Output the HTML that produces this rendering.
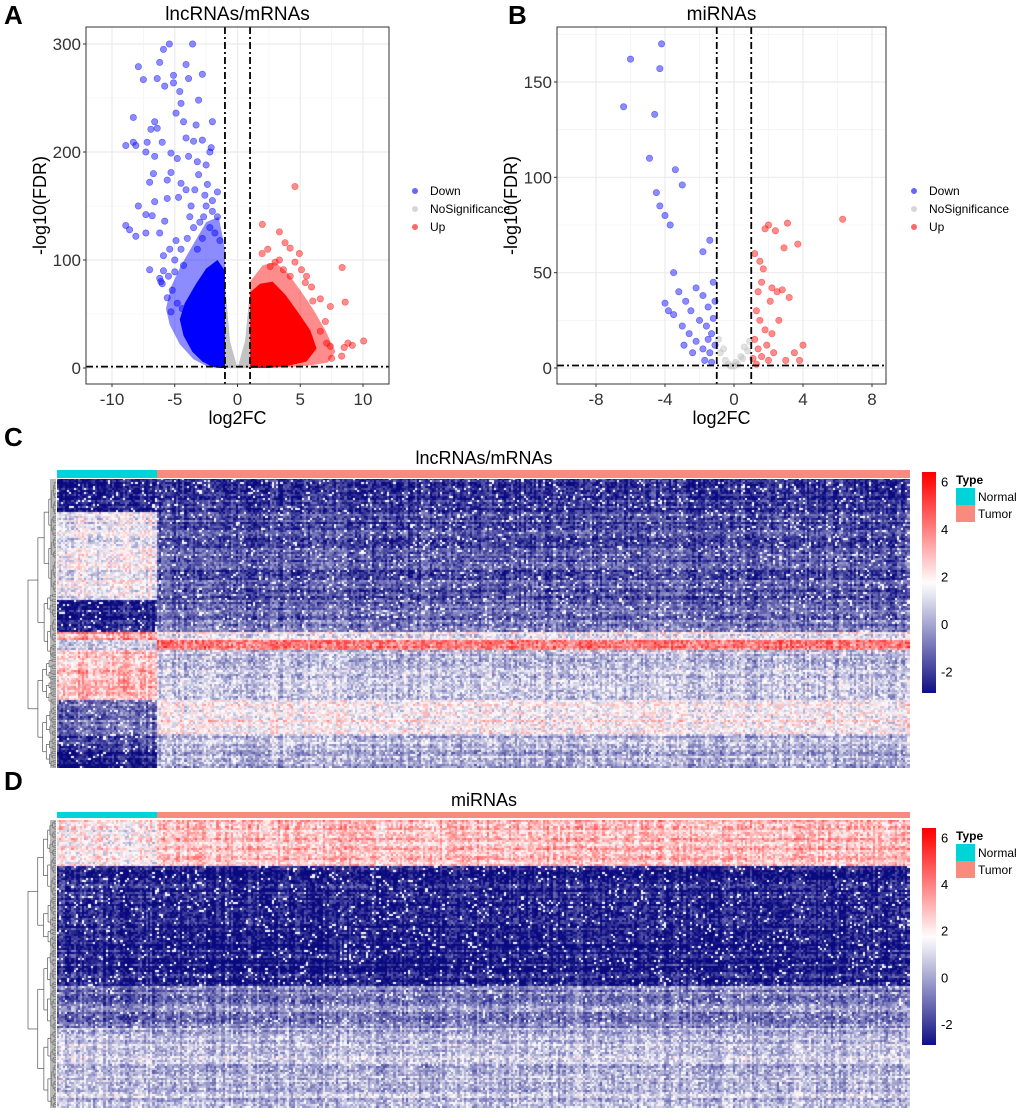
<!DOCTYPE html>
<html><head><meta charset="utf-8">
<style>
body{margin:0;background:#fff;font-family:"Liberation Sans",Arial,sans-serif;}
#root{position:relative;width:1020px;height:1112px;overflow:hidden;}
svg text{font-family:"Liberation Sans",Arial,sans-serif;}
canvas{position:absolute;}
</style></head>
<body><div id="root">
<svg id="svg" width="1020" height="1112" style="position:absolute;left:0;top:0"></svg>
<canvas id="hmC" width="853" height="289" style="left:57px;top:479px"></canvas>
<canvas id="hmD" width="853" height="288" style="left:57px;top:820px"></canvas>
</div>
<script>
// ---------- Volcano A data ----------
const aDownX=[-5.43,-3.58,-5.9,-7.9,-6.2,-4.1,-2.8,-7.5,-6.4,-5.1,-3.9,-5.8,-5.1,-4.6,-3.1,-4.5,-4.9,-8.3,-6.6,-4.3,-3.3,-2.0,-6.9,-6.4,-8.9,-8.3,-8.1,-7.2,-6.0,-4.1,-3.5,-2.8,-2.1,-7.3,-6.6,-5.3,-4.8,-3.9,-3.2,-2.5,-2.2,-6.7,-5.3,-3.1,-7.0,-5.6,-4.5,-1.6,-6.6,-5.6,-4.7,-7.9,-7.3,-6.8,-8.9,-8.6,-8.1,-7.3,-5.8,-6.2,-7.0,-6.2,-5.9,-5.3,-5.0,-2.5,-2.0,-1.6,-3.0,-2.2,-1.8,-3.5,-2.8,-4.0,-4.5,-1.4,-3.2,-5.0,-4.3,-5.5,-6.0,-2.6,-3.7,-4.1,-3.4,-2.0,-2.7,-5.6,-5.2,-4.8,-4.4,-6.1,-5.9,-5.4,-4.9,-3.8,-2.4];
const aDownY=[300,300,295,279,283,281,272,267,268,271,268,261,264,256,248,245,236,232,228,228,225,228,221,222,206,209,206,209,209,213,210,211,204,200,196,199,194,196,191,188,200,180,181,179,172,174,171,163,154,157,158,150,142,141,132,128,122,125,136,125,91,83,104,52,89,150,145,140,135,130,125,130,120,120,110,118,110,100,95,85,78,160,150,165,165,155,140,65,72,60,55,80,90,110,118,140,170];
const aUpX=[4.58,1.98,3.34,3.79,4.19,2.41,4.93,1.96,8.34,3.34,2.6,4.58,5.5,5.9,8.58,6.6,7.4,7.0,10.05,9.15,8.8,8.5,8.3,7.4,7.5,7.1,6.6,5.1,4.2,3.0,3.66,5.4,6.0];
const aUpY=[168,133,126,116,111,110,106,106,93,100,94,98,85,75,61,64,57,43,25,21,23,19,11,20,9,23,34,91,85,98,91,79,62];
const aDownOuterX=[-1,-1,-1.5,-2.5,-3.5,-4.5,-5.3,-5.7,-5.4,-4.6,-3.5,-2.5,-1.6];
const aDownOuterY=[0,110,140,135,115,95,75,55,40,22,8,2,0];
const aDownPolyX=[-1,-1,-1.6,-2.5,-3.3,-4.2,-4.6,-4.3,-3.6,-2.8,-2.0,-1.4];
const aDownPolyY=[0,90,100,92,78,60,45,30,15,6,1,0];
const aUpOuterX=[1,1,2,3,4,5,6,7,7.8,7.2,5.5,3.5,1.8];
const aUpOuterY=[0,80,95,98,88,72,55,35,15,5,2,0.5,0];
const aUpPolyX=[1,1,1.8,2.8,3.8,4.8,5.8,6.3,5.5,4,2.5];
const aUpPolyY=[0,70,78,80,68,52,35,18,6,2,0];
const aNsPolyX=[-1,-1,-0.6,0,0.6,1,1];
const aNsPolyY=[0,80,25,0,25,72,0];
// ---------- Volcano B data ----------
const bDownX=[-4.2,-4.3,-6.0,-6.4,-4.6,-4.9,-3.4,-4.5,-3.0,-4.3,-4.0,-3.7,-3.5,-1.4,-1.8,-3.2,-2.8,-2.5,-2.2,-1.8,-1.5,-1.2,-2,-1.6,-1.3,-3.5,-3,-2.6,-2.2,-1.8,-1.4,-1.1,-1.2,-2.4,-1.7,-1.3,-3.8,-4,-2.9,-1.5,-1.1];
const bDownY=[170,157,162,137,133,110,104,92,96,85,80,75,50,67,61,40,35,30,42,38,32,45,25,22,18,28,22,18,14,10,8,12,26,8,4,3,30,34,12,15,35];
const bUpX=[1.8,2.0,2.4,2.9,3.1,3.7,4,3.5,3,3.8,2.5,2.2,2.8,3.2,1.5,1.7,1.6,2.1,1.3,1.5,1.8,1.2,1.4,1.9,2.2,2.6,1.1,1.3,1.6,2,2.3,6.3,1.2,1.4];
const bUpY=[73,75,72,63,76,65,12,8,4,4,40,42,41,37,56,52,45,35,30,25,20,15,10,12,18,25,5,2,6,4,8,78,60,40];
const bNsX=[-0.8,-0.5,-0.3,0,0.2,0.5,0.8,-0.9,0.9,-0.6,0.6,0.1,-0.2,0.4];
const bNsY=[8,4,2,1,2,5,9,15,14,10,11,3,1,6];
// ---------- Heatmap data ----------
const cRows=[17,44,16,4,5,25,17,9,8];
const cNormal=[-2.6,1.5,-2.6,3.6,1.0,3.0,-0.8,-1.8,-2.6];
const cTumor=[-2.2,-1.6,-1.0,1.5,4.2,0.6,1.9,0.4,0.2];
const dRows=[23,60,21,40];
const dNormal=[1.9,-2.4,-1.0,0.6];
const dTumor=[2.8,-2.6,-0.6,0.4];
const scaleTicks=[6,4,2,0,-2];
const gridA={x:[-10,-5,0,5,10],y:[0,100,200,300]};
const gridB={x:[-8,-4,0,4,8],y:[0,50,100,150]};

const NS='http://www.w3.org/2000/svg';
const svg=document.getElementById('svg');
function el(t,a,p){const e=document.createElementNS(NS,t);for(const k in a)e.setAttribute(k,a[k]);(p||svg).appendChild(e);return e;}
function txt(s,a,p){const e=el('text',a,p);e.textContent=s;return e;}

function volcano(o){
  const g=el('g',{});
  
  
  const sx=v=>o.x0+(v-o.xmin)*(o.x1-o.x0)/(o.xmax-o.xmin);
  const sy=v=>o.y0-(v-o.ymin)*(o.y0-o.y1)/(o.ymax-o.ymin);
  const L=o.box[0],T=o.box[1],R=o.box[2],B=o.box[3];
  el('rect',{x:L,y:T,width:R-L,height:B-T,fill:'#fff'},g);
  for(let i=0;i<o.gx.length-1;i++){const m=(o.gx[i]+o.gx[i+1])/2;el('line',{x1:sx(m),x2:sx(m),y1:T,y2:B,stroke:'#f4f4f4','stroke-width':0.8},g);}
  for(let i=0;i<o.gy.length-1;i++){const m=(o.gy[i]+o.gy[i+1])/2;el('line',{y1:sy(m),y2:sy(m),x1:L,x2:R,stroke:'#f4f4f4','stroke-width':0.8},g);}
  {const m=o.gy[o.gy.length-1]+(o.gy[1]-o.gy[0])/2;if(sy(m)>T)el('line',{y1:sy(m),y2:sy(m),x1:L,x2:R,stroke:'#f4f4f4','stroke-width':0.8},g);}
  o.gx.forEach(v=>{el('line',{x1:sx(v),x2:sx(v),y1:T,y2:B,stroke:'#ebebeb','stroke-width':1.2},g);
    const t=txt(String(v),{x:sx(v),y:B+21,'font-size':17,'text-anchor':'middle',fill:'#333'},g);
    });
  o.gy.forEach(v=>{el('line',{y1:sy(v),y2:sy(v),x1:L,x2:R,stroke:'#ebebeb','stroke-width':1.2},g);
    el('line',{x1:L-3,x2:L,y1:sy(v),y2:sy(v),stroke:'#333'},g);
    const t=txt(String(v),{x:L-5,y:sy(v)+6,'font-size':17,'text-anchor':'end',fill:'#333'},g);
    });
  o.gx.forEach(v=>el('line',{x1:sx(v),x2:sx(v),y1:B,y2:B+3,stroke:'#333'},g));
  const poly=(xs,ys,c,op,nm)=>{const p=el('polygon',{points:xs.map((x,i)=>sx(x)+','+sy(ys[i])).join(' '),fill:c,'fill-opacity':op},g);
    };
  if(o.nsPX)poly(o.nsPX,o.nsPY,'#bdbdbd',0.9,'ns-dense-region');
  if(o.downOX)poly(o.downOX,o.downOY,'#0000ff',0.45,'down-sparse-region');
  if(o.downPX)poly(o.downPX,o.downPY,'#0000ff',1,'down-dense-region');
  if(o.upOX)poly(o.upOX,o.upOY,'#ff0000',0.45,'up-sparse-region');
  if(o.upPX)poly(o.upPX,o.upPY,'#ff0000',1,'up-dense-region');
  const pts=(xs,ys,c,nm)=>xs.forEach((x,i)=>{const p=el('circle',{cx:sx(x),cy:sy(ys[i]),r:3.2,fill:c,'fill-opacity':0.45,stroke:c,'stroke-opacity':0.5,'stroke-width':0.6},g);
    });
  if(o.nsX)pts(o.nsX,o.nsY,'#bdbdbd','ns-point');
  pts(o.downX,o.downY,'#0000ff','down-point');
  pts(o.upX,o.upY,'#ff0000','up-point');
  [-1,1].forEach(v=>el('line',{x1:sx(v),x2:sx(v),y1:T,y2:B,stroke:'#000','stroke-width':1.8,'stroke-dasharray':'7 3 2 3'},g));
  el('line',{x1:L,x2:R,y1:sy(1.3),y2:sy(1.3),stroke:'#000','stroke-width':1.8,'stroke-dasharray':'7 3 2 3'},g);
  el('rect',{x:L,y:T,width:R-L,height:B-T,fill:'none',stroke:'#333','stroke-width':1},g);
  txt('log2FC',{x:(L+R)/2,y:B+40,'font-size':18,'text-anchor':'middle',fill:'#000'},g);
  txt('-log10(FDR)',{x:0,y:0,'font-size':18,'text-anchor':'middle',fill:'#000',transform:`translate(${o.ytx},${(T+B)/2}) rotate(-90)`},g);
  txt(o.title,{x:(L+R)/2,y:20,'font-size':19,'text-anchor':'middle',fill:'#000'},g);
  txt(o.letter,{x:o.lx,y:24,'font-size':26,'font-weight':'bold',fill:'#000'},g);
  const leg=[['Down','#0000ff'],['NoSignificance','#bdbdbd'],['Up','#ff0000']];
  leg.forEach((d,i)=>{const y=191+i*18;
    el('circle',{cx:o.legx,cy:y,r:3,fill:d[1],'fill-opacity':0.6},g);
    const t=txt(d[0],{x:o.legx+15,y:y+4,'font-size':12,fill:'#000'},g);
    });
}
volcano({name:'volcano-lncrna',title:'lncRNAs/mRNAs',letter:'A',lx:4,box:[86,27,389,384],
  xmin:-10,xmax:10,x0:112,x1:363,ymin:0,ymax:300,y0:368,y1:44,gx:gridA.x,gy:gridA.y,ytx:46,legx:415,
  downX:aDownX,downY:aDownY,upX:aUpX,upY:aUpY,downPX:aDownPolyX,downPY:aDownPolyY,downOX:aDownOuterX,downOY:aDownOuterY,
  upPX:aUpPolyX,upPY:aUpPolyY,upOX:aUpOuterX,upOY:aUpOuterY,nsPX:aNsPolyX,nsPY:aNsPolyY});
volcano({name:'volcano-mirna',title:'miRNAs',letter:'B',lx:508,box:[557,27,886,384],
  xmin:-8,xmax:8,x0:596,x1:872,ymin:0,ymax:150,y0:368,y1:82,gx:gridB.x,gy:gridB.y,ytx:517,legx:914,
  downX:bDownX,downY:bDownY,upX:bUpX,upY:bUpY,nsX:bNsX,nsY:bNsY});

// ---------- Heatmaps ----------
function col(v){const lo=[10,10,128],mid=[255,255,255],hi=[255,0,0],m=1.7;
  let a,b,t;if(v<m){t=Math.max(0,(v+3)/(m+3));a=lo;b=mid;}else{t=Math.min(1,(v-m)/(6.3-m));a=mid;b=hi;}
  return [0,1,2].map(i=>Math.round(a[i]+(b[i]-a[i])*t));}
function hash(i,j,s){let h=(i*374761393+j*668265263+s*1442695041)|0;h=(h^(h>>>13))*1274126177|0;h^=h>>>16;return ((h>>>0)%10000)/10000;}
function heat(id,rows,nm,tm,seed){
  const cv=document.getElementById(id),ctx=cv.getContext('2d');
  const W=cv.width,H=cv.height,nCols=400,nNorm=47,cw=W/nCols;
  const total=rows.reduce((a,b)=>a+b,0),rh=H/total;let r=0;
  rows.forEach((n,bi)=>{for(let k=0;k<n;k++,r++){const rowOff=(hash(r,7,seed)-0.5)*1.4;
    for(let c=0;c<nCols;c++){const base=c<nNorm?nm[bi]:tm[bi];
      const colOff=(hash(3,c,seed)-0.5)*1.2;
      let nz=hash(r,c,seed);
      let v=base+rowOff+colOff+(nz-0.5)*2.2;
      if(nz>0.94&&v<1.7)v=1.6;
      const q=col(v);ctx.fillStyle=`rgb(${q[0]},${q[1]},${q[2]})`;
      ctx.fillRect(Math.floor(c*cw),Math.floor(r*rh),Math.ceil(cw)+1,Math.ceil(rh)+1);}}});
}
heat('hmC',cRows,cNormal,cTumor,1);
heat('hmD',dRows,dNormal,dTumor,2);

function heatDecor(o){
  const g=el('g',{});
  
  
  txt(o.letter,{x:4,y:o.ly,'font-size':26,'font-weight':'bold',fill:'#000'},g);
  txt(o.title,{x:484,y:o.ty,'font-size':18,'text-anchor':'middle',fill:'#000'},g);
  const n=el('rect',{x:57,y:o.ay,width:100,height:o.ah,fill:'#00d4d8'},g);
  const t=el('rect',{x:157,y:o.ay,width:753,height:o.ah,fill:'#f98a80'},g);
  const top=o.hy,h=o.hh;const d=el('g',{stroke:'#555','stroke-width':0.7,fill:'none'},g);
  
  function tree(y0,y1,x,depth){ if(depth>6||y1-y0<3){el('line',{x1:x,x2:56,y1:(y0+y1)/2,y2:(y0+y1)/2},d);return (y0+y1)/2;}
    const sp=y0+(y1-y0)*(0.35+0.3*hash(depth,Math.round(y0),9));
    const nx=x+(56-x)*(0.25+0.2*hash(Math.round(y1),depth,5));
    const a=tree(y0,sp,nx,depth+1),b=tree(sp,y1,nx,depth+1);
    el('line',{x1:x,x2:x,y1:a,y2:b},d);el('line',{x1:x,x2:nx,y1:a,y2:a},d);el('line',{x1:x,x2:nx,y1:b,y2:b},d);return (a+b)/2;}
  tree(top,top+h,28,0);
  el('rect',{x:50,y:top,width:6,height:h,fill:'#888','fill-opacity':0.6,stroke:'none'},d);
  const gid='grad'+o.letter;const defs=el('defs',{},g);const lg=el('linearGradient',{id:gid,x1:0,y1:1,x2:0,y2:0},defs);
  for(let i=0;i<=20;i++){const v=-2.9+i*(6.4+2.9)/20;const q=col(v);el('stop',{offset:i/20,'stop-color':`rgb(${q})`},lg);}
  const cb=el('rect',{x:922,y:o.cy,width:14,height:o.ch,fill:`url(#${gid})`},g);
  const sy=v=>o.cy+(6.4-v)*o.ch/9.3;
  scaleTicks.forEach(v=>{const tt=txt(String(v),{x:941,y:sy(v)+5,'font-size':13,fill:'#000'},g);});
  txt('Type',{x:956,y:o.cy+12,'font-size':12,'font-weight':'bold',fill:'#000'},g);
  el('rect',{x:956,y:o.cy+16,width:19,height:17,fill:'#00d4d8'},g);
  el('rect',{x:956,y:o.cy+33,width:19,height:17,fill:'#f98a80'},g);
  txt('Normal',{x:978,y:o.cy+29,'font-size':12,fill:'#000'},g);
  txt('Tumor',{x:978,y:o.cy+46,'font-size':12,fill:'#000'},g);
}
heatDecor({name:'heatmap-panel-c',letter:'C',ly:446,title:'lncRNAs/mRNAs',ty:464,ay:470,ah:8,hy:479,hh:289,cy:472,ch:221});
heatDecor({name:'heatmap-panel-d',letter:'D',ly:790,title:'miRNAs',ty:806,ay:812,ah:6,hy:820,hh:288,cy:828,ch:217});
</script>
</body></html>
